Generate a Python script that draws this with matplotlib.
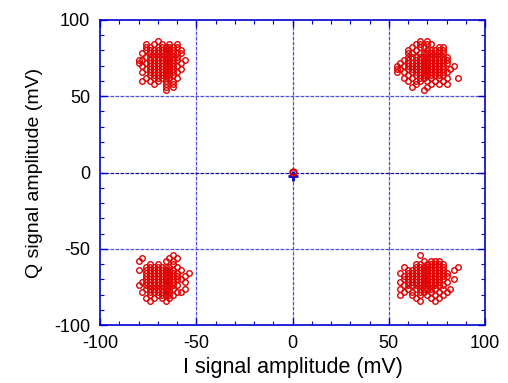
import matplotlib
matplotlib.use("Agg")
import matplotlib.pyplot as plt
from matplotlib.ticker import MultipleLocator

plt.rcParams['font.family'] = ['Liberation Sans', 'DejaVu Sans']
plt.rcParams['axes.unicode_minus'] = False

# received constellation points, one row of I values per Q level (mV)
tl_q = [86, 84, 82, 80, 78, 76, 74, 72, 70, 68, 66, 64, 62, 60, 58, 56, 54]
tl_i = [[-70],
        [-76, -72, -68, -64, -60],
        [-76, -74, -70, -68, -66, -64, -62, -60],
        [-76, -74, -72, -70, -68, -66, -64, -62, -58],
        [-78, -74, -72, -70, -68, -66, -64, -62, -60, -58],
        [-76, -74, -72, -70, -68, -66, -64, -62, -60],
        [-80, -78, -74, -72, -70, -68, -66, -64, -62, -60, -56],
        [-80, -76, -74, -72, -70, -68, -66, -64, -62, -58],
        [-78, -74, -72, -70, -68, -66, -64, -62, -60],
        [-76, -74, -72, -70, -68, -66, -64, -62, -58],
        [-78, -74, -72, -70, -68, -66, -64, -62, -60],
        [-74, -72, -70, -68, -66, -64, -62],
        [-76, -72, -70, -68, -66, -64, -60],
        [-78, -74, -70, -66, -62],
        [-72, -66, -62],
        [-66, -62],
        [-66]]

tr_q = [86, 84, 82, 80, 78, 76, 74, 72, 70, 68, 66, 64, 62, 60, 58, 56, 54]
tr_i = [[66, 70],
        [64, 66, 70, 72],
        [62, 66, 68, 76, 78],
        [60, 64, 70, 72, 74, 76, 78],
        [60, 62, 66, 68, 70, 72, 74, 76, 78],
        [60, 62, 64, 66, 68, 70, 72, 74, 76, 78, 80],
        [58, 60, 64, 66, 68, 70, 72, 74, 76, 78, 80],
        [56, 60, 62, 64, 66, 68, 70, 72, 74, 76, 78, 80],
        [54, 58, 60, 62, 64, 66, 68, 70, 72, 74, 76, 78, 84],
        [54, 56, 60, 62, 64, 66, 68, 70, 72, 74, 76, 78, 82],
        [54, 58, 62, 64, 66, 68, 70, 72, 74, 76, 78, 80],
        [60, 64, 66, 68, 70, 72, 74, 76, 78],
        [58, 62, 66, 68, 72, 76, 80, 86],
        [60, 64, 66, 70, 74, 78],
        [64, 72, 76, 80],
        [62, 70],
        [68]]

bl_q = [-54, -56, -58, -60, -62, -64, -66, -68, -70, -72, -74, -76, -78, -80, -82, -84]
bl_i = [[-62],
        [-78, -64, -60],
        [-80, -66, -62],
        [-74, -70, -62],
        [-76, -74, -72, -70, -68, -66, -64, -60],
        [-80, -76, -74, -72, -70, -68, -66, -64, -62, -58],
        [-76, -74, -72, -70, -68, -66, -64, -62, -60, -54],
        [-76, -74, -72, -70, -68, -66, -64, -62, -60, -56],
        [-76, -74, -72, -70, -68, -66, -64, -62, -60, -58],
        [-78, -76, -74, -72, -70, -68, -66, -64, -62, -56],
        [-80, -76, -74, -72, -70, -68, -66, -64, -62, -60],
        [-76, -74, -72, -70, -68, -66, -64, -62, -56],
        [-78, -74, -72, -70, -68, -66, -64, -60, -58],
        [-74, -70, -68, -66, -64, -62],
        [-76, -72, -68, -64],
        [-74, -66]]

br_q = [-54, -58, -60, -62, -64, -66, -68, -70, -72, -74, -76, -78, -80, -82, -84]
br_i = [[66],
        [68, 72, 74, 76],
        [64, 66, 70, 72, 74, 76, 78],
        [58, 64, 66, 68, 70, 72, 74, 76, 78, 86],
        [60, 62, 64, 66, 68, 70, 72, 74, 76, 78, 84],
        [56, 60, 62, 64, 66, 68, 70, 72, 74, 76, 78, 80],
        [58, 60, 62, 64, 66, 68, 70, 72, 74, 76, 78, 80],
        [58, 60, 62, 64, 66, 68, 70, 72, 74, 76, 78, 84],
        [56, 60, 62, 64, 66, 68, 70, 72, 74, 76, 80],
        [58, 60, 62, 64, 66, 68, 70, 72, 74, 76, 78],
        [56, 60, 64, 66, 68, 70, 72, 74, 78, 82],
        [58, 62, 66, 68, 72, 76, 80],
        [56, 62, 66, 70, 74, 78],
        [64, 72, 76],
        [66, 74]]

origin_i, origin_q = [0], [0.5]
dc_i, dc_q = [0], [-2]


def flatten(q_levels, i_rows):
    xs, ys = [], []
    for q, row in zip(q_levels, i_rows):
        xs.extend(row)
        ys.extend([q] * len(row))
    return xs, ys


fig = plt.figure(figsize=(5.08, 3.83), dpi=100)
ax = fig.add_axes([0.197, 0.151, 0.758, 0.797])

grid_col = '#5050d8'
for v in (-50, 50):
    ax.axvline(v, color=grid_col, lw=0.9, ls=(0, (3, 1)), zorder=1)
    ax.axhline(v, color=grid_col, lw=0.9, ls=(0, (3, 1)), zorder=1)
ax.axvline(0, color=grid_col, lw=0.9, ls=(0, (3, 1)), zorder=1)
ax.axhline(0, color='#101080', lw=0.9, ls=(0, (3, 1)), zorder=1)

for q_levels, i_rows in [(tl_q, tl_i), (tr_q, tr_i), (bl_q, bl_i), (br_q, br_i)]:
    xs, ys = flatten(q_levels, i_rows)
    ax.plot(xs, ys, 'o', ms=4, mfc='none', mec='#e00000', mew=1.0, zorder=3)

ax.plot(dc_i, dc_q, '+', ms=7, mec='#0000d0', mew=2.0, zorder=4)
ax.plot(origin_i, origin_q, 'o', ms=4.5, mfc='none', mec='#e00000', mew=1.6, zorder=5)

ax.set_xlim(-100, 100)
ax.set_ylim(-100, 100)
ax.xaxis.set_major_locator(MultipleLocator(50))
ax.yaxis.set_major_locator(MultipleLocator(50))
ax.xaxis.set_minor_locator(MultipleLocator(10))
ax.yaxis.set_minor_locator(MultipleLocator(10))
ax.tick_params(which='both', direction='in', top=True, right=True, color='#0000d0')
ax.tick_params(which='major', length=5, width=1, labelsize=13, pad=7)
ax.tick_params(which='minor', length=3, width=0.8)
for s in ax.spines.values():
    s.set_color('#0000d0')
    s.set_linewidth(1.2)

ax.set_xlabel('I signal amplitude (mV)', fontsize=15.5, labelpad=4)
ax.set_ylabel('Q signal amplitude (mV)', fontsize=14, labelpad=8)

fig.savefig('out.png', dpi=100)
